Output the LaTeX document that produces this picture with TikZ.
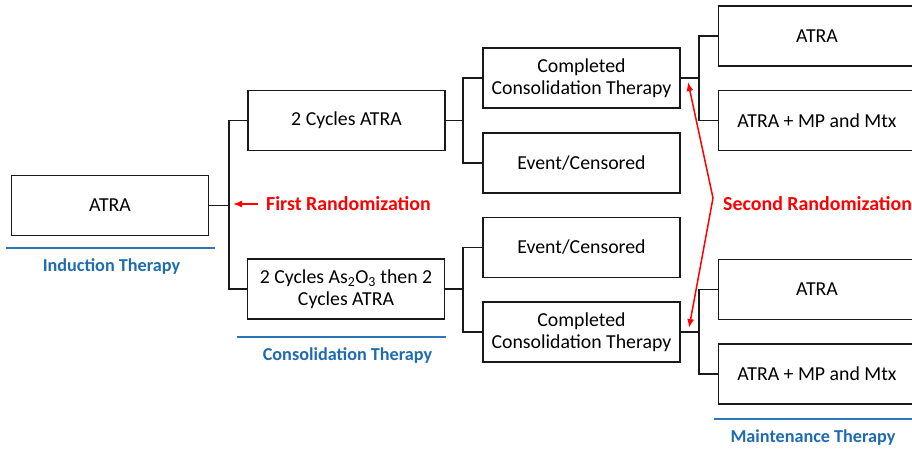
\documentclass[tikz,border=0pt]{standalone}
\usepackage{fontspec}
\setmainfont{Carlito}
\usetikzlibrary{arrows.meta}
\definecolor{rred}{HTML}{FF0000}
\definecolor{bline}{HTML}{2E75B6}
\definecolor{btext}{HTML}{1F6BB0}
\begin{document}
\begin{tikzpicture}[x=1pt,y=-1pt,
  box/.style={draw=black!90, line width=1.7pt, minimum width=197pt, minimum height=60pt,
    inner sep=0pt, align=center, font=\fontsize{19.8}{22.5}\selectfont},
  link/.style={draw=black!90, line width=1.7pt},
  phase/.style={text=btext, inner sep=0pt, font=\bfseries\fontsize{18.2}{20}\selectfont},
  phaseline/.style={draw=bline, line width=1.7pt},
  rarrow/.style={draw=rred, line width=1.5pt},
  rlabel/.style={text=rred, font=\bfseries\fontsize{19.9}{22}\selectfont, anchor=west, inner sep=0pt}]
\useasboundingbox (0,0) rectangle (912,449);
% boxes
\node[box] (ind) at (110,205.5) {ATRA};
\node[box] (a1) at (346.5,120.5) {2 Cycles ATRA};
\node[box] (a2) at (346,289) {2 Cycles As\textsubscript{2}O\textsubscript{3} then 2\\Cycles ATRA};
\node[box] (c1) at (581.5,78) {Completed\\Consolidation Therapy};
\node[box] (e1) at (581.5,163) {Event/Censored};
\node[box] (e2) at (581.5,247.5) {Event/Censored};
\node[box] (c2) at (581.5,332) {Completed\\Consolidation Therapy};
\node[box] (m1) at (817,36) {ATRA};
\node[box] (m2) at (817,120.5) {ATRA + MP and Mtx};
\node[box] (m3) at (817,289.5) {ATRA};
\node[box] (m4) at (817,374) {ATRA + MP and Mtx};
% junctions
\coordinate (j1) at (229,205.5);
\coordinate (j2) at (463,120.5);
\coordinate (j3) at (463,289);
\coordinate (j4) at (699,78);
\coordinate (j5) at (699,332);
\draw[link] (ind.east) -- (j1);
\draw[link] (a1.west) -| (j1) |- (a2.west);
\draw[link] (a1.east) -- (j2);
\draw[link] (c1.west) -| (j2) |- (e1.west);
\draw[link] (a2.east) -- (j3);
\draw[link] (e2.west) -| (j3) |- (c2.west);
\draw[link] (c1.east) -- (j4);
\draw[link] (m1.west) -| (j4) |- (m2.west);
\draw[link] (c2.east) -- (j5);
\draw[link] (m3.west) -| (j5) |- (m4.west);
% phase labels
\coordinate (p1a) at (6,248); \coordinate (p1b) at (215,248);
\draw[phaseline] (p1a) -- (p1b);
\node[phase] (ph1) at (111.5,266.5) {Induction Therapy};
\coordinate (p2a) at (237,337); \coordinate (p2b) at (446,337);
\draw[phaseline] (p2a) -- (p2b);
\node[phase] (ph2) at (347.5,355.5) {Consolidation Therapy};
\coordinate (p3a) at (714,419); \coordinate (p3b) at (912,419);
\draw[phaseline] (p3a) -- (p3b);
\node[phase] (ph3) at (813,437.5) {Maintenance Therapy};
% randomizations
\node[rlabel] (r1) at (266,204) {First Randomization};
\coordinate (r1tip) at (233,204);
\draw[rarrow, -{Latex[length=9pt,width=7pt]}] ([xshift=-8pt]r1.west) -- (r1tip);
\node[rlabel] (r2) at (723,204) {Second Randomization};
\coordinate (bend) at (713,198);
\coordinate (t1) at (688,82);
\coordinate (t2) at (689,328);
\draw[rarrow, {Latex[length=9pt,width=7pt]}-{Latex[length=9pt,width=7pt]}] (t1) -- (bend) -- (t2);
\end{tikzpicture}
\end{document}
